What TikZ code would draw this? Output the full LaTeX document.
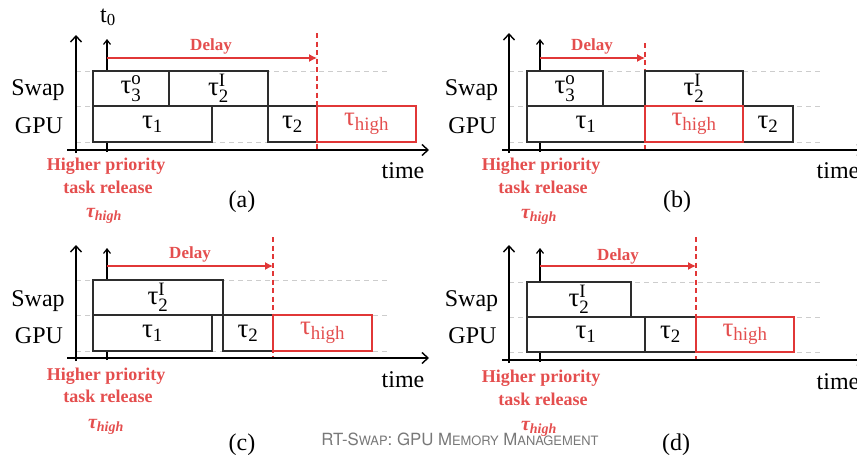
\documentclass[tikz,border=0pt]{standalone}
\usepackage{amsmath}
\usepackage{fontspec}
\setmainfont{Liberation Serif}
\newfontfamily\footfont{TeX Gyre Heros}
\usetikzlibrary{arrows.meta}
\definecolor{myred}{RGB}{225,55,55}
\definecolor{redtext}{RGB}{228,78,78}
\definecolor{gridgray}{RGB}{205,205,205}
\definecolor{footgray}{RGB}{120,120,120}
\definecolor{boxline}{RGB}{45,45,45}
\tikzset{
  ax/.style={line width=1.4pt, -{Straight Barb[length=6pt,width=11pt,line width=1.4pt]}},
  tzax/.style={line width=1.2pt, -{Straight Barb[length=4.5pt,width=7pt,line width=1.2pt]}},
  gridline/.style={gridgray, dash pattern=on 5pt off 4pt, line width=0.9pt},
  tbox/.style={draw=boxline, line width=1.3pt, fill=white, inner sep=0pt, outer sep=0pt,
               anchor=north west, font=\fontsize{27}{30}\selectfont},
  hbox/.style={tbox, draw=myred, text=redtext},
  delayarrow/.style={myred, line width=1.2pt, -{Latex[length=8pt,width=8pt]}},
  rdash/.style={myred, line width=1.3pt, dash pattern=on 5pt off 3.5pt},
  lbl/.style={font=\fontsize{24}{28}\selectfont, anchor=base, inner sep=0pt},
  delaylbl/.style={text=redtext, font=\fontsize{17}{20}\selectfont\bfseries, anchor=base, inner sep=0pt},
  rel/.style={text=redtext, font=\fontsize{18}{21}\selectfont\bfseries, anchor=base, inner sep=0pt},
  relt/.style={text=redtext, font=\fontsize{20}{24}\selectfont\bfseries, anchor=base, inner sep=0pt},
}
\newcommand\tkbox[7][tbox]{\node[#1, minimum width={(#5-#3)*1pt}, minimum height={(#6-#4)*1pt}] (#2) at (#3,#4) {#7};}
\newcommand\tsub[1]{$\text{τ}_{\text{#1}}$}
\newcommand\tsubsup[2]{$\text{τ}_{\text{#1}}^{\text{#2}}$}
\newcommand\thighit{$\textit{τ}_{\textit{high}}$}
\begin{document}
\begin{tikzpicture}[x=1pt,y=-1pt]
\useasboundingbox (0,0) rectangle (857,455);

% ================= panel (a)
\foreach \yy in {71,106,142} \draw[gridline] (76,\yy) -- (388,\yy);
\coordinate (a-t0b) at (107,152); \coordinate (a-t0t) at (107,39);
\draw[tzax] (a-t0b) -- (a-t0t);
\coordinate (a-rdt) at (317,33); \coordinate (a-rdb) at (317,150);
\draw[rdash] (a-rdt) -- (a-rdb);
\tkbox{a-t3o}{93}{71}{169}{106}{\tsubsup{3}{o}}
\tkbox{a-t2i}{169}{71}{268}{106}{\tsubsup{2}{I}}
\tkbox{a-t1}{93}{106}{212}{142}{\tsub{1}}
\tkbox{a-t2}{268}{106}{317}{142}{\tsub{2}}
\tkbox[hbox]{a-th}{317}{106}{416}{142}{\tsub{high}}
\coordinate (a-yb) at (76,153); \coordinate (a-yt) at (76,35);
\draw[ax] (a-yb) -- (a-yt);
\coordinate (a-xl) at (67,150); \coordinate (a-xr) at (429,150);
\draw[ax] (a-xl) -- (a-xr);
\coordinate (a-ds) at (107,58); \coordinate (a-de) at (317,58);
\draw[delayarrow] (a-ds) -- (a-de);
\node[lbl] (a-t0) at (108,22) {$\text{t}_{\text{0}}$};
\node[delaylbl] (a-delay) at (211,50) {Delay};
\node[lbl] (a-swap) at (38,95) {Swap};
\node[lbl] (a-gpu) at (39,133) {GPU};
\node[lbl] (a-time) at (403,178) {time};
\node[lbl] (a-cap) at (242,207) {(a)};
\node[rel] (a-rel1) at (106,170) {Higher priority};
\node[rel] (a-rel2) at (108,193) {task release};
\node[relt] (a-relt) at (104,217) {\thighit};

% ================= panel (b)
\foreach \yy in {71,106,142} \draw[gridline] (509,\yy) -- (823,\yy);
\coordinate (b-t0b) at (540,152); \coordinate (b-t0t) at (540,39);
\draw[tzax] (b-t0b) -- (b-t0t);
\coordinate (b-rdt) at (645,43); \coordinate (b-rdb) at (645,150);
\draw[rdash] (b-rdt) -- (b-rdb);
\tkbox{b-t3o}{527}{71}{603}{106}{\tsubsup{3}{o}}
\tkbox{b-t2i}{645}{71}{743}{106}{\tsubsup{2}{I}}
\tkbox{b-t1}{527}{106}{645}{142}{\tsub{1}}
\tkbox{b-t2}{743}{106}{793}{142}{\tsub{2}}
\tkbox[hbox]{b-th}{645}{106}{743}{142}{\tsub{high}}
\coordinate (b-yb) at (509,153); \coordinate (b-yt) at (509,33);
\draw[ax] (b-yb) -- (b-yt);
\coordinate (b-xl) at (502,150); \coordinate (b-xr) at (864,150);
\draw[ax] (b-xl) -- (b-xr);
\coordinate (b-ds) at (540,58); \coordinate (b-de) at (645,58);
\draw[delayarrow] (b-ds) -- (b-de);
\node[delaylbl] (b-delay) at (592,50) {Delay};
\node[lbl] (b-swap) at (471.5,95) {Swap};
\node[lbl] (b-gpu) at (472.5,133) {GPU};
\node[lbl] (b-time) at (838,178) {time};
\node[lbl] (b-cap) at (677,207) {(b)};
\node[rel] (b-rel1) at (541,170) {Higher priority};
\node[rel] (b-rel2) at (543,193) {task release};
\node[relt] (b-relt) at (539,218) {\thighit};

% ================= panel (c)
\foreach \yy in {280,315,351} \draw[gridline] (76,\yy) -- (388,\yy);
\coordinate (c-t0b) at (107,360); \coordinate (c-t0t) at (107,248);
\draw[tzax] (c-t0b) -- (c-t0t);
\coordinate (c-rdt) at (273,237); \coordinate (c-rdb) at (273,358);
\draw[rdash] (c-rdt) -- (c-rdb);
\tkbox{c-t2i}{93}{280}{223}{315}{\tsubsup{2}{I}}
\tkbox{c-t1}{93}{315}{212}{351}{\tsub{1}}
\tkbox{c-t2}{223}{315}{273}{351}{\tsub{2}}
\tkbox[hbox]{c-th}{273}{315}{372}{351}{\tsub{high}}
\coordinate (c-yb) at (76,361); \coordinate (c-yt) at (76,245);
\draw[ax] (c-yb) -- (c-yt);
\coordinate (c-xl) at (67,358); \coordinate (c-xr) at (429,358);
\draw[ax] (c-xl) -- (c-xr);
\coordinate (c-ds) at (107,266); \coordinate (c-de) at (273,266);
\draw[delayarrow] (c-ds) -- (c-de);
\node[delaylbl] (c-delay) at (190,258) {Delay};
\node[lbl] (c-swap) at (38,306) {Swap};
\node[lbl] (c-gpu) at (39,343) {GPU};
\node[lbl] (c-time) at (403,387) {time};
\node[lbl] (c-cap) at (242,450) {(c)};
\node[rel] (c-rel1) at (106,380) {Higher priority};
\node[rel] (c-rel2) at (108,402) {task release};
\node[relt] (c-relt) at (106,428) {\thighit};

% ================= panel (d)
\foreach \yy in {282,317,352} \draw[gridline] (509,\yy) -- (823,\yy);
\coordinate (d-t0b) at (540,362); \coordinate (d-t0t) at (540,248);
\draw[tzax] (d-t0b) -- (d-t0t);
\coordinate (d-rdt) at (696,237); \coordinate (d-rdb) at (696,360);
\draw[rdash] (d-rdt) -- (d-rdb);
\tkbox{d-t2i}{527}{282}{631}{317}{\tsubsup{2}{I}}
\tkbox{d-t1}{527}{317}{645}{352}{\tsub{1}}
\tkbox{d-t2}{645}{317}{696}{352}{\tsub{2}}
\tkbox[hbox]{d-th}{696}{317}{794}{352}{\tsub{high}}
\coordinate (d-yb) at (509,363); \coordinate (d-yt) at (509,245);
\draw[ax] (d-yb) -- (d-yt);
\coordinate (d-xl) at (502,360); \coordinate (d-xr) at (864,360);
\draw[ax] (d-xl) -- (d-xr);
\coordinate (d-ds) at (540,266); \coordinate (d-de) at (696,266);
\draw[delayarrow] (d-ds) -- (d-de);
\node[delaylbl] (d-delay) at (618,260) {Delay};
\node[lbl] (d-swap) at (471.5,306) {Swap};
\node[lbl] (d-gpu) at (472.5,343) {GPU};
\node[lbl] (d-time) at (838,389) {time};
\node[lbl] (d-cap) at (676,450) {(d)};
\node[rel] (d-rel1) at (541,382) {Higher priority};
\node[rel] (d-rel2) at (543,405) {task release};
\node[relt] (d-relt) at (539,430) {\thighit};

% ================= footer
\node[anchor=base, inner sep=0pt, text=footgray, font=\footfont\fontsize{16.8}{20}\selectfont] (footer) at (460,445)
  {RT-S{\fontsize{12.9}{15}\selectfont WAP}: GPU M{\fontsize{12.9}{15}\selectfont EMORY} M{\fontsize{12.9}{15}\selectfont ANAGEMENT}};
\end{tikzpicture}
\end{document}
